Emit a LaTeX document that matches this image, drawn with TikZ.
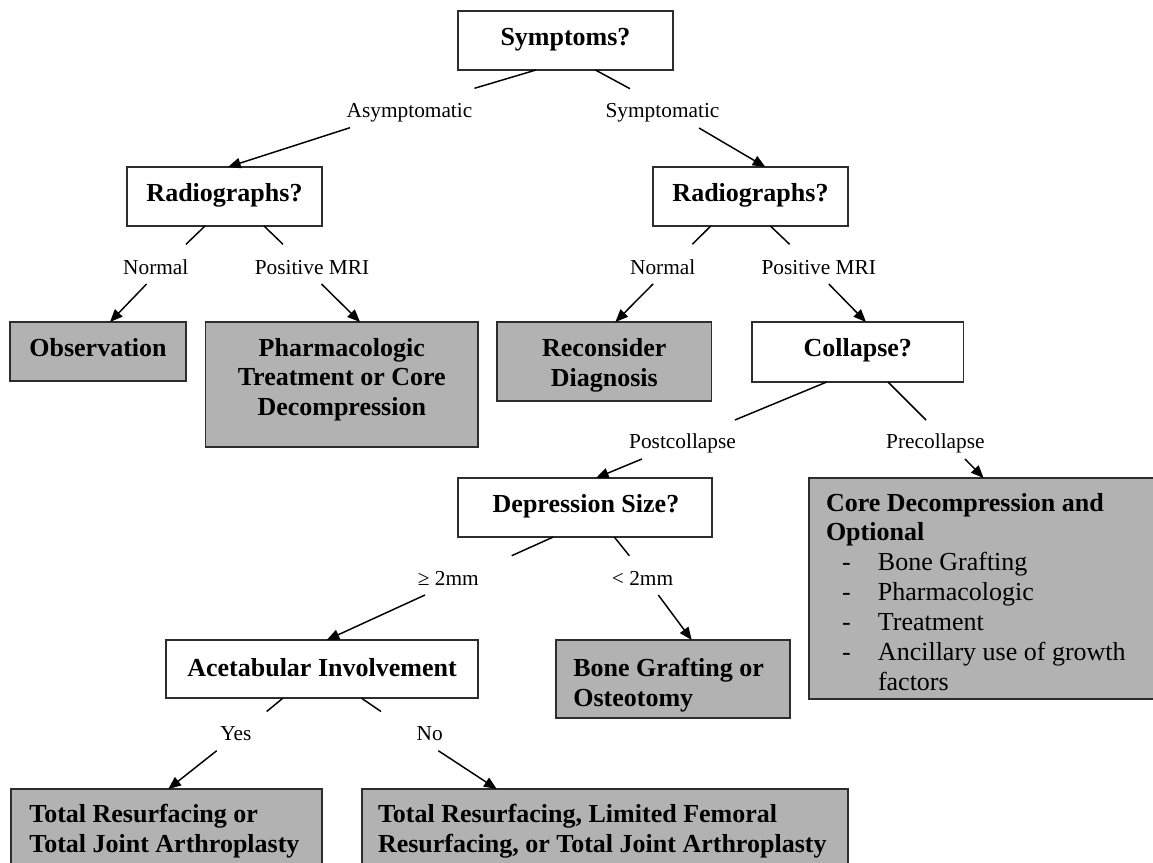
\documentclass[tikz,border=0pt]{standalone}
\usepackage{fontspec}
\setmainfont{Liberation Serif}
\usetikzlibrary{calc,arrows.meta}
\definecolor{boxgray}{RGB}{178,178,178}
\definecolor{edgegray}{RGB}{45,45,45}
\newcommand\mylc[1]{\hbox to 0pt{\hss#1\hss}}
\newcommand\myll[1]{\hbox to 0pt{#1\hss}}
\newcommand\myitem[1]{\myll{\hskip12pt\hbox to 27pt{-\hss}#1}}
\begin{document}
\begin{tikzpicture}[x=0.75pt,y=-0.75pt,
  box/.style={draw=edgegray,line width=1.45pt,inner sep=0pt,outer sep=0pt},
  wbox/.style={box,fill=white},
  gbox/.style={box,fill=boxgray},
  ttl/.style={font=\fontsize{19.5}{22.4}\selectfont\bfseries,inner sep=0pt,anchor=base},
  lbl/.style={font=\fontsize{16}{19}\selectfont,inner sep=0pt,anchor=base},
  ln/.style={line width=1.1pt,black},
  arr/.style={line width=1.1pt,black,-{Triangle[length=9.5pt,width=7.8pt]}}]
\useasboundingbox (0,0) rectangle (1153,863);
\fill[white] (0,0) rectangle (1153,863);
% boxes
\node[wbox,minimum width=215*0.75pt,minimum height=59*0.75pt] (sym) at (565.5,40.5) {};
\node[wbox,minimum width=195*0.75pt,minimum height=59*0.75pt] (rad1) at (224.5,196.5) {};
\node[wbox,minimum width=195*0.75pt,minimum height=59*0.75pt] (rad2) at (750.5,196.5) {};
\node[gbox,minimum width=176*0.75pt,minimum height=59*0.75pt] (obs) at (98,351.5) {};
\node[gbox,minimum width=272.5*0.75pt,minimum height=125*0.75pt] (pharm) at (341.75,384.5) {};
\node[gbox,minimum width=214.5*0.75pt,minimum height=79*0.75pt] (recon) at (604.25,361.5) {};
\node[wbox,minimum width=211.5*0.75pt,minimum height=60*0.75pt] (coll) at (857.75,352) {};
\node[wbox,minimum width=253.4*0.75pt,minimum height=59*0.75pt] (dep) at (585,507.5) {};
\node[gbox,minimum width=347*0.75pt,minimum height=221*0.75pt] (core) at (982.5,588.5) {};
\node[wbox,minimum width=312.6*0.75pt,minimum height=58.3*0.75pt] (acet) at (322,669.15) {};
\node[gbox,minimum width=234*0.75pt,minimum height=78.3*0.75pt] (bone) at (673,679.15) {};
\node[gbox,minimum width=311.6*0.75pt,minimum height=81*0.75pt] (tot1) at (166.5,829.5) {};
\node[gbox,minimum width=486.3*0.75pt,minimum height=81*0.75pt] (tot2) at (604.85,829.5) {};
% box texts
\node[ttl] (symT) at (565.5,45.5) {Symptoms?};
\node[ttl] (rad1T) at (224.5,201.5) {Radiographs?};
\node[ttl] (rad2T) at (750.5,201.5) {Radiographs?};
\node[ttl] (obsT) at (98,356.7) {Observation};
\node[ttl] (pharmT) at (341.75,356) {\vtop{\mylc{Pharmacologic}\mylc{Treatment or Core}\mylc{Decompression}}};
\node[ttl] (reconT) at (604.25,356.5) {\vtop{\mylc{Reconsider}\mylc{Diagnosis}}};
\node[ttl] (collT) at (857.75,356) {Collapse?};
\node[ttl] (depT) at (586,512) {Depression Size?};
\node[ttl] (acetT) at (322,676.7) {Acetabular Involvement};
\node[ttl] (boneT) at (573.3,676.7) {\vtop{\myll{Bone Grafting or}\myll{Osteotomy}}};
\node[ttl] (tot1T) at (29.3,822.7) {\vtop{\myll{Total Resurfacing or}\myll{Total Joint Arthroplasty}}};
\node[ttl] (tot2T) at (378,822.7) {\vtop{\myll{Total Resurfacing, Limited Femoral}\myll{Resurfacing, or Total Joint Arthroplasty}}};
\node[ttl] (coreT) at (826,511) {\vtop{\myll{Core Decompression and}\myll{Optional}\mdseries
  \myitem{Bone Grafting}\myitem{Pharmacologic}\myitem{Treatment}\myitem{Ancillary use of growth}\myll{\hskip39pt factors}}};
% labels
\node[lbl] (lAsym) at (409.5,117.3) {Asymptomatic};
\node[lbl] (lSym) at (662.5,117.3) {Symptomatic};
\node[lbl] (lNor1) at (155.8,274) {Normal};
\node[lbl] (lPos1) at (312,274) {Positive MRI};
\node[lbl] (lNor2) at (662.7,274) {Normal};
\node[lbl] (lPos2) at (818.8,274) {Positive MRI};
\node[lbl] (lPost) at (682.5,448.3) {Postcollapse};
\node[lbl] (lPre) at (935.4,448.3) {Precollapse};
\node[lbl] (lGe) at (448.3,585.5) {≥ 2mm};
\node[lbl] (lLt) at (642.5,585.5) {< 2mm};
\node[lbl] (lYes) at (235.8,740) {Yes};
\node[lbl] (lNo) at (429.7,740) {No};
% free ends near labels
\coordinate (p1a) at (474.5,88.3);  \coordinate (p1b) at (350,127.7);
\coordinate (p2a) at (630,88.7);    \coordinate (p2b) at (699,128);
\coordinate (p3a) at (186,244.3);   \coordinate (p3b) at (146.6,284);
\coordinate (p4a) at (283,244.3);   \coordinate (p4b) at (321.5,284);
\coordinate (p5a) at (692.3,244.3); \coordinate (p5b) at (653,284);
\coordinate (p6a) at (789.6,244.3); \coordinate (p6b) at (828.8,284);
\coordinate (p7a) at (734.9,420);   \coordinate (p7b) at (641.9,459);
\coordinate (p8a) at (926,420);     \coordinate (p8b) at (965,459);
\coordinate (p9a) at (511.7,555.7); \coordinate (p9b) at (425,595);
\coordinate (p10a) at (629.3,555.7);\coordinate (p10b) at (658.3,595);
\coordinate (p11a) at (266.7,711.5);\coordinate (p11b) at (216.7,750.7);
\coordinate (p12a) at (381,711.5);  \coordinate (p12b) at (438.3,750.7);
% connectors
\draw[ln] ($(sym.south west)+(78,0)$) -- (p1a);
\draw[arr] (p1b) -- ($(rad1.north west)+(101,0)$);
\draw[ln] ($(sym.south west)+(137.4,0)$) -- (p2a);
\draw[arr] (p2b) -- ($(rad2.north west)+(112.4,0)$);
\draw[ln] ($(rad1.south west)+(78,0)$) -- (p3a);
\draw[arr] (p3b) -- ($(obs.north west)+(100,0)$);
\draw[ln] ($(rad1.south west)+(137,0)$) -- (p4a);
\draw[arr] (p4b) -- ($(pharm.north west)+(154.5,0)$);
\draw[ln] ($(rad2.south west)+(57.8,0)$) -- (p5a);
\draw[arr] (p5b) -- ($(recon.north west)+(118.4,0)$);
\draw[ln] ($(rad2.south west)+(117.4,0)$) -- (p6a);
\draw[arr] (p6b) -- ($(coll.north west)+(114,0)$);
\draw[ln] ($(coll.south west)+(74.7,0)$) -- (p7a);
\draw[arr] (p7b) -- ($(dep.north west)+(137.7,0)$);
\draw[ln] ($(coll.south west)+(136,0)$) -- (p8a);
\draw[arr] (p8b) -- ($(core.north west)+(174.6,0)$);
\draw[ln] ($(dep.south west)+(95,0)$) -- (p9a);
\draw[arr] (p9b) -- ($(acet.north west)+(161,0)$);
\draw[ln] ($(dep.south west)+(156,0)$) -- (p10a);
\draw[arr] (p10b) -- ($(bone.north west)+(135.7,0)$);
\draw[ln] ($(acet.south west)+(117,0)$) -- (p11a);
\draw[arr] (p11b) -- ($(tot1.north west)+(157.6,0)$);
\draw[ln] ($(acet.south west)+(196,0)$) -- (p12a);
\draw[arr] (p12b) -- ($(tot2.north west)+(135,0)$);
\end{tikzpicture}
\end{document}
